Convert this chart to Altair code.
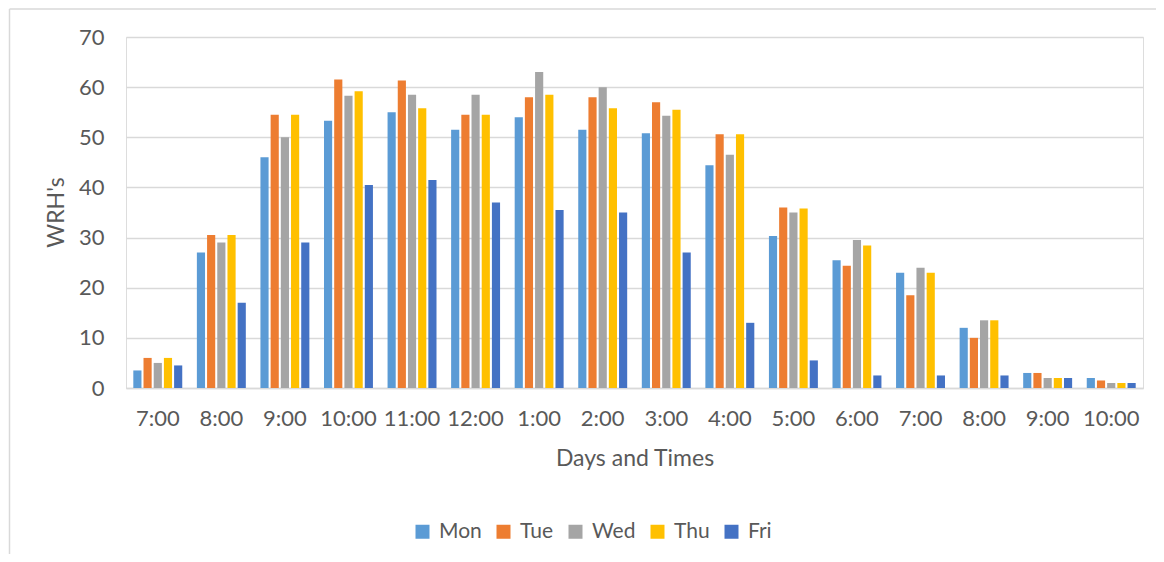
import altair as alt
import pandas as pd

slots = ["7:00 AM", "8:00 AM", "9:00 AM", "10:00 AM", "11:00 AM", "12:00 PM",
         "1:00 PM", "2:00 PM", "3:00 PM", "4:00 PM", "5:00 PM", "6:00 PM",
         "7:00 PM", "8:00 PM", "9:00 PM", "10:00 PM"]
days = ["Mon", "Tue", "Wed", "Thu", "Fri"]
colors = ["#5B9BD5", "#ED7D31", "#A5A5A5", "#FFC000", "#4472C4"]

mon = [3.5, 27, 46, 53.3, 55, 51.5, 54, 51.5, 50.8, 44.4, 30.3, 25.5, 23, 12, 3, 2]
tue = [6, 30.5, 54.5, 61.5, 61.3, 54.5, 58, 58, 57, 50.6, 36, 24.4, 18.5, 10, 3, 1.5]
wed = [5, 29, 50, 58.3, 58.5, 58.5, 63, 60, 54.3, 46.5, 35, 29.5, 24, 13.5, 2, 1]
thu = [6, 30.5, 54.5, 59.2, 55.8, 54.5, 58.5, 55.8, 55.5, 50.6, 35.8, 28.4, 23, 13.5, 2, 1]
fri = [4.5, 17, 29, 40.5, 41.5, 37, 35.5, 35, 27, 13, 5.5, 2.5, 2.5, 2.5, 2, 1]

series = {"Mon": mon, "Tue": tue, "Wed": wed, "Thu": thu, "Fri": fri}
rows = []
for d in days:
    for s, v in zip(slots, series[d]):
        rows.append({"slot": s, "day": d, "value": v})
df = pd.DataFrame(rows)

FONT = "Lato"
TXT = "#595959"
GRID = "#D9D9D9"

bars = alt.Chart(df).mark_bar().encode(
    x=alt.X("slot:N", sort=slots,
            scale=alt.Scale(paddingInner=0.23, paddingOuter=0.115),
            axis=alt.Axis(title="Days and Times", labelAngle=0, ticks=False,
                          labelExpr="split(datum.value, ' ')[0]",
                          labelPadding=20, labelFontSize=22, labelColor=TXT,
                          labelFont=FONT, domainColor=GRID, domainWidth=1.5,
                          titleFont=FONT, titleFontSize=23, titleColor=TXT,
                          titleFontWeight="normal", titleY=70,
                          titleBaseline="middle")),
    xOffset=alt.XOffset("day:N", sort=days,
                        scale=alt.Scale(paddingInner=0.2, paddingOuter=0)),
    y=alt.Y("value:Q", scale=alt.Scale(domain=[0, 70]),
            axis=alt.Axis(title="WRH's", values=[0, 10, 20, 30, 40, 50, 60, 70],
                          ticks=False, domain=False, labelPadding=22,
                          labelFontSize=22, labelColor=TXT, labelFont=FONT,
                          gridColor=GRID, gridWidth=1.5,
                          titleFont=FONT, titleFontSize=23, titleColor=TXT,
                          titleFontWeight="normal", titleAngle=-90,
                          titleX=-70, titleY=175, titleAlign="center",
                          titleBaseline="middle")),
    color=alt.Color("day:N", sort=days,
                    scale=alt.Scale(domain=days, range=colors),
                    legend=alt.Legend(title=None, orient="none", direction="horizontal",
                                      legendX=286, legendY=484, symbolType="square",
                                      symbolSize=196, symbolStrokeWidth=0,
                                      labelFontSize=21, labelColor=TXT, labelFont=FONT,
                                      labelOffset=6, columnPadding=11, padding=0)),
)

border = alt.Chart(pd.DataFrame({"k": [0]})).mark_rule(color=GRID, strokeWidth=1.5).encode(
    x=alt.value(-116.5), x2=alt.value(-116.5), y=alt.value(-28), y2=alt.value(520))
border_top = alt.Chart(pd.DataFrame({"k": [0]})).mark_rule(color=GRID, strokeWidth=1.5).encode(
    x=alt.value(-116.5), x2=alt.value(1030), y=alt.value(-28))

chart = alt.layer(border, border_top, bars).properties(
    width=1017, height=351,
    autosize=alt.AutoSizeParams(type="none"),
    padding={"left": 118, "top": 29, "right": 13, "bottom": 166},
).configure_view(stroke=None).configure(font=FONT, background="white")

chart.save("out.html", embed_options={"renderer": "svg", "actions": False})
